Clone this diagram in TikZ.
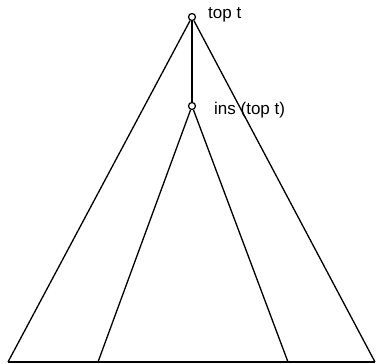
\documentclass[tikz,border=0pt]{standalone}
\usepackage{fontspec}
\setmainfont{Liberation Sans}
\usetikzlibrary{positioning}

\begin{document}
\begin{tikzpicture}[
  x=1pt, y=-1pt,
  font=\fontsize{17}{20}\selectfont,
  pt/.style={draw, circle, line width=1.2pt, fill=white, minimum size=7pt, inner sep=0pt},
  lbl/.style={inner sep=0pt, anchor=base west},
  edge/.style={line width=1.3pt}
]
\useasboundingbox (0,0) rectangle (376,364);
\node[pt] (top) at (192,17) {};
\node[pt] (ins) at (192,106) {};
\node[lbl] (toplbl) at (208,19) {top t};
\node[lbl] (inslbl) at (214,114.5) {ins (top t)};
\coordinate (outl) at (8,362);
\coordinate (outr) at (375,362);
\coordinate (inl) at (98,362);
\coordinate (inr) at (288,362);
\draw[edge] (outl) -- (top) -- (outr);
\draw[edge] (top) -- (ins);
\draw[edge] (inl) -- (ins) -- (inr);
\draw[edge] (outl) -- (outr);
\end{tikzpicture}
\end{document}
